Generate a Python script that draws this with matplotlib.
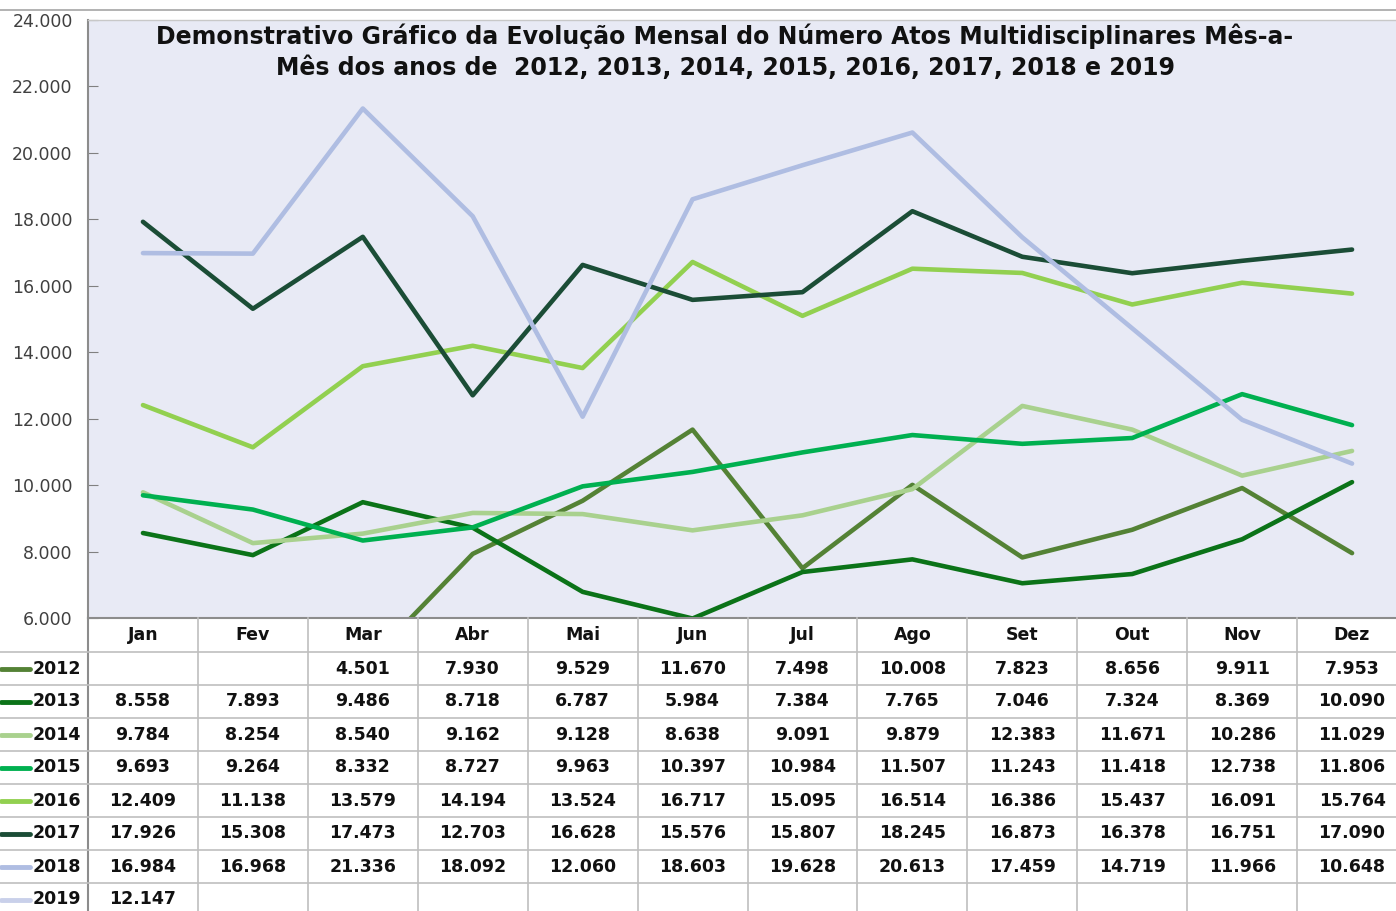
import matplotlib
matplotlib.use("Agg")
import matplotlib.pyplot as plt
import matplotlib.transforms as transforms
import numpy as np

W, H = 1396, 911

meses = ["Jan", "Fev", "Mar", "Abr", "Mai", "Jun", "Jul", "Ago", "Set", "Out", "Nov", "Dez"]
anos = ["2012", "2013", "2014", "2015", "2016", "2017", "2018", "2019"]

v2012 = [None, None, 4501, 7930, 9529, 11670, 7498, 10008, 7823, 8656, 9911, 7953]
v2013 = [8558, 7893, 9486, 8718, 6787, 5984, 7384, 7765, 7046, 7324, 8369, 10090]
v2014 = [9784, 8254, 8540, 9162, 9128, 8638, 9091, 9879, 12383, 11671, 10286, 11029]
v2015 = [9693, 9264, 8332, 8727, 9963, 10397, 10984, 11507, 11243, 11418, 12738, 11806]
v2016 = [12409, 11138, 13579, 14194, 13524, 16717, 15095, 16514, 16386, 15437, 16091, 15764]
v2017 = [17926, 15308, 17473, 12703, 16628, 15576, 15807, 18245, 16873, 16378, 16751, 17090]
v2018 = [16984, 16968, 21336, 18092, 12060, 18603, 19628, 20613, 17459, 14719, 11966, 10648]
v2019 = [12147] + [None] * 11

series = [v2012, v2013, v2014, v2015, v2016, v2017, v2018, v2019]
cores = ["#548235", "#0b7318", "#a9d18e", "#00b050", "#92d050", "#1b4d36", "#afbde2", "#c9d0ea"]

def fx(x):
    return x / W

def fy(y):
    return 1 - y / H

fig = plt.figure(figsize=(W / 100, H / 100), dpi=100)
# plot area runs a little past the right edge of the picture
ax = fig.add_axes([fx(88), fy(618), fx(1319), (618 - 20) / H])
ax.set_facecolor("#e8eaf5")

x = np.arange(12)
for vals, cor in zip(series, cores):
    y = np.array([np.nan if v is None else v for v in vals], dtype=float)
    ax.plot(x, y, color=cor, lw=3.3, solid_capstyle="round", solid_joinstyle="round")

ax.set_xlim(-0.5, 11.5)
ax.set_ylim(6000, 24000)
ax.set_yticks(np.arange(6000, 24001, 2000))
ax.set_yticklabels([f"{v:,}".replace(",", ".") for v in range(6000, 24001, 2000)],
                   fontsize=12.5, color="#404040")
ax.tick_params(axis="y", direction="in", length=7, color="#808080", pad=11)
ax.set_xticks([])
ax.spines["right"].set_visible(False)
for s in ["left", "bottom"]:
    ax.spines[s].set_color("#8c8c8c")
    ax.spines[s].set_linewidth(1.5)
ax.spines["top"].set_color("#c8c8c8")
ax.spines["top"].set_linewidth(1)

# chart area top border
fig.add_artist(plt.Line2D([0, 1], [fy(10), fy(10)], transform=fig.transFigure,
                          color="#a6a6a6", lw=1.2))

fig.text(fx(725), fy(36), "Demonstrativo Gráfico da Evolução Mensal do Número Atos Multidisciplinares Mês-a-",
         ha="center", va="center", fontsize=17, fontweight="bold", color="#111111")
fig.text(fx(725), fy(68), "Mês dos anos de  2012, 2013, 2014, 2015, 2016, 2017, 2018 e 2019",
         ha="center", va="center", fontsize=17, fontweight="bold", color="#111111")

# data table
tr = transforms.blended_transform_factory(ax.transData, fig.transFigure)
linha = "#bfbfbf"
row_top = 652
row_h = 33
n_rows = len(anos)
bottom = row_top + row_h * n_rows

for i in range(13):
    xb = i - 0.5
    fig.add_artist(plt.Line2D([xb, xb], [fy(618), fy(bottom)], transform=tr,
                              color=linha if i else "#8c8c8c", lw=1.2 if i else 1.5))
for r in range(n_rows + 1):
    yb = row_top + r * row_h
    fig.add_artist(plt.Line2D([0, 1], [fy(yb), fy(yb)], transform=fig.transFigure,
                              color=linha, lw=1.2))

for i, m in enumerate(meses):
    fig.text(i, fy(635), m, transform=tr, ha="center", va="center",
             fontsize=12.5, fontweight="bold", color="#111111")

for r, (ano, vals, cor) in enumerate(zip(anos, series, cores)):
    yc = fy(row_top + row_h * r + 16.5)
    fig.add_artist(plt.Line2D([fx(1), fx(30)], [yc, yc], transform=fig.transFigure,
                              color=cor, lw=3.5, solid_capstyle="round"))
    fig.text(fx(33), yc, ano, ha="left", va="center", fontsize=12.5,
             fontweight="bold", color="#111111")
    for i, v in enumerate(vals):
        if v is None:
            continue
        fig.text(i, yc, f"{v:,}".replace(",", "."), transform=tr, ha="center",
                 va="center", fontsize=12.5, fontweight="bold", color="#111111")

fig.savefig("out.png", dpi=100, facecolor="white")
